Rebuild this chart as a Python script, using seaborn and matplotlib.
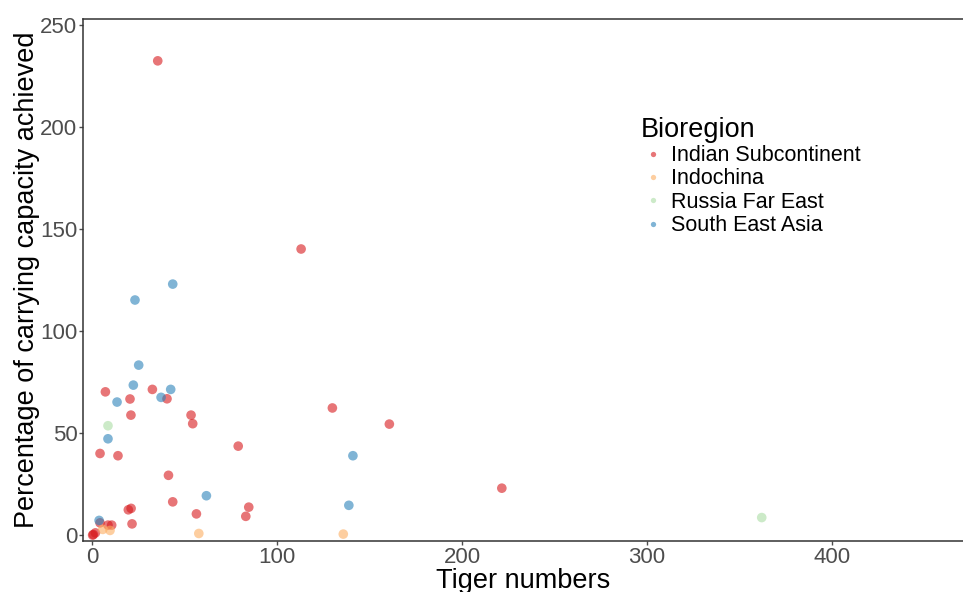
import matplotlib
matplotlib.use("Agg")
import matplotlib.pyplot as plt
import seaborn as sns
import pandas as pd

# Data
indian_x = [35.5, 113, 7.2, 32.6, 40.5, 20.5, 21.0, 53.5, 54.4, 79.0, 4.3, 14.0,
            41.3, 43.6, 19.6, 21.1, 21.6, 56.4, 84.7, 83.1, 8.6, 10.6, 4.3, 0.7,
            1.8, 0.3, 129.9, 160.7, 221.5]
indian_y = [232.4, 140.2, 70.2, 71.4, 66.8, 66.7, 58.8, 58.8, 54.6, 43.6, 40.0, 38.9,
            29.3, 16.3, 12.4, 13.1, 5.5, 10.4, 13.7, 9.2, 4.9, 4.9, 6.0, 0.3,
            1.1, 0.0, 62.3, 54.4, 23.0]
indo_x = [57.7, 135.8, 5.8, 9.7]
indo_y = [0.8, 0.5, 2.8, 2.3]
russia_x = [8.6, 362.0]
russia_y = [53.6, 8.6]
sea_x = [43.6, 23.2, 25.2, 22.3, 13.5, 37.3, 42.5, 8.6, 61.8, 141.0, 138.8, 3.8]
sea_y = [123.0, 115.2, 83.3, 73.5, 65.2, 67.5, 71.4, 47.2, 19.3, 38.9, 14.6, 7.2]

regions = ["Indian Subcontinent", "Indochina", "Russia Far East", "South East Asia"]
colors = ["#D7191C", "#FDAE61", "#ABDDA4", "#2B83BA"]

df = pd.DataFrame({
    "Tiger numbers": indian_x + indo_x + russia_x + sea_x,
    "Percentage": indian_y + indo_y + russia_y + sea_y,
    "Bioregion": [regions[0]] * len(indian_x) + [regions[1]] * len(indo_x)
                 + [regions[2]] * len(russia_x) + [regions[3]] * len(sea_x),
})

sns.set_theme(style="white")
plt.rcParams["font.family"] = ["Liberation Sans", "DejaVu Sans"]

fig = plt.figure(figsize=(9.63, 5.92), dpi=100)
ax = fig.add_axes([0.0862, 0.0861, 0.9138, 0.8818])

sns.scatterplot(data=df, x="Tiger numbers", y="Percentage", hue="Bioregion",
                hue_order=regions, palette=colors, alpha=0.6, s=48,
                edgecolor="none", ax=ax)

ax.set_xlim(-4.9, 470.8)
ax.set_ylim(-2.9, 252.9)
ax.set_xticks([0, 100, 200, 300, 400])
ax.set_yticks([0, 50, 100, 150, 200, 250])
ax.set_xlabel("Tiger numbers", fontsize=19.5, color="black", labelpad=0)
ax.set_ylabel("Percentage of carrying capacity achieved", fontsize=19.5,
              color="black", labelpad=0)
ax.tick_params(axis="both", labelsize=16, colors="#4D4D4D", length=3,
               width=1, direction="out", left=True, bottom=True, pad=1)
ax.grid(False)
for side in ["left", "bottom", "top"]:
    ax.spines[side].set_visible(True)
    ax.spines[side].set_color("#333333")
    ax.spines[side].set_linewidth(1.1)
ax.spines["right"].set_visible(False)

handles, labels = ax.get_legend_handles_labels()
leg = ax.legend(handles, labels, title="Bioregion", frameon=False,
                loc="upper left", bbox_to_anchor=(0.654, 0.821),
                bbox_transform=fig.transFigure, fontsize=15.5,
                title_fontsize=19.5, markerscale=0.55, handletextpad=0.2,
                labelspacing=0.11, borderpad=0, handlelength=1.2)
leg._legend_box.align = "left"
for t in leg.get_texts():
    t.set_color("black")
leg.get_title().set_color("black")

fig.savefig("out.png", dpi=100)
